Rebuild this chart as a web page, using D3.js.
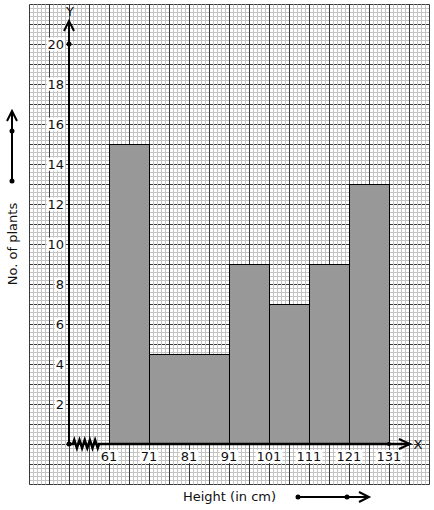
<!DOCTYPE html>
<html><head><meta charset="utf-8">
<script src="https://cdn.jsdelivr.net/npm/d3@7"></script>
<style>body{margin:0;background:#fff}svg{display:block}text{font-family:"DejaVu Sans",sans-serif;fill:#111}</style>
</head><body>
<script>
const xTicks = [61, 71, 81, 91, 101, 111, 121, 131];
const yTicks = [2, 4, 6, 8, 10, 12, 14, 16, 18, 20];
const classEdges = [61, 71, 91, 101, 111, 121, 131];
const barHeights = [15, 4.5, 9, 7, 9, 13];
const xTitle = "Height (in cm)";
const yTitle = "No. of plants";

const W = 434, H = 510;
const svg = d3.select("body").append("svg").attr("width", W).attr("height", H);
svg.append("rect").attr("width", W).attr("height", H).attr("fill", "#fff");

const x = d3.scaleLinear().domain([51, 131]).range([69, 389]);
const y = d3.scaleLinear().domain([0, 20]).range([444, 44]);

// graph paper
const gx0 = x(41), gx1 = x(141), gy0 = y(22), gy1 = y(-2);
const g = svg.append("g").attr("transform", "translate(0.5,0.5)");
const minorC = "#c4c4c4", majorC = "#3a3a3a";
for (let yy = gy0; yy <= gy1; yy += 4) if ((yy - gy0) % 20) g.append("line").attr("x1", gx0).attr("x2", gx1).attr("y1", yy).attr("y2", yy).attr("stroke", minorC);
for (let yy = gy0; yy <= gy1; yy += 20) g.append("line").attr("x1", gx0).attr("x2", gx1).attr("y1", yy).attr("y2", yy).attr("stroke", majorC);
for (let xx = gx0; xx <= gx1; xx += 4) if ((xx - gx0) % 20) g.append("line").attr("x1", xx).attr("x2", xx).attr("y1", gy0).attr("y2", gy1).attr("stroke", minorC);
for (let xx = gx0; xx <= gx1; xx += 20) g.append("line").attr("x1", xx).attr("x2", xx).attr("y1", gy0).attr("y2", gy1).attr("stroke", majorC);

// bars
const bars = barHeights.map((h, i) => ({ a: classEdges[i], b: classEdges[i + 1], h }));
g.selectAll("rect.bar").data(bars).join("rect").attr("class", "bar")
  .attr("x", d => x(d.a)).attr("width", d => x(d.b) - x(d.a))
  .attr("y", d => y(d.h)).attr("height", d => y(0) - y(d.h))
  .attr("fill", "#989898").attr("stroke", "#000").attr("stroke-width", 1);

// tick labels with white background
function labelBox(sel) {
  sel.each(function () {
    const bb = this.getBBox();
    d3.select(this.parentNode).insert("rect", () => this)
      .attr("x", bb.x - 1).attr("y", bb.y + 1).attr("width", bb.width + 2).attr("height", bb.height - 2).attr("fill", "#fff");
  });
}
const yl = svg.append("g");
yTicks.forEach(v => {
  const gg = yl.append("g");
  gg.append("text").attr("x", 64).attr("y", y(v)).attr("dy", "0.36em").attr("text-anchor", "end").attr("font-size", 13).text(v);
});
labelBox(yl.selectAll("text"));
const xl = svg.append("g");
xTicks.forEach(v => {
  const gg = xl.append("g");
  gg.append("text").attr("x", x(v)).attr("y", 461).attr("text-anchor", "middle").attr("font-size", 13).text(v);
});
labelBox(xl.selectAll("text"));

// axes
const ax = svg.append("g").attr("stroke", "#000").attr("fill", "none").attr("stroke-width", 2);
ax.append("line").attr("x1", x(51)).attr("x2", x(51)).attr("y1", y(0)).attr("y2", 22);
ax.append("path").attr("d", `M${x(51) - 5},31 L${x(51)},21 L${x(51) + 5},31`);
// x axis with kink
const kx0 = x(52), kx1 = x(58.5);
const zz = [[x(51), y(0)], [kx0, y(0)]];
const n = 5, step = (kx1 - kx0) / (2 * n);
for (let i = 0; i < 2 * n; i++) zz.push([kx0 + step * (i + 0.5), y(0) + (i % 2 ? 4 : -4)]);
zz.push([kx1, y(0)], [409, y(0)]);
ax.append("path").attr("d", d3.line()(zz)).attr("stroke-width", 2.5);
ax.append("path").attr("d", `M399,${y(0) - 5} L410,${y(0)} L399,${y(0) + 5}`);

const dots = svg.append("g").attr("fill", "#000");
dots.append("circle").attr("cx", x(51)).attr("cy", y(0)).attr("r", 2.5);
dots.append("circle").attr("cx", x(51)).attr("cy", y(20)).attr("r", 2.5);
dots.append("circle").attr("cx", x(131)).attr("cy", y(0)).attr("r", 2);

svg.append("text").attr("x", 70).attr("y", 16).attr("text-anchor", "middle").attr("font-size", 13).text("Y");
svg.append("text").attr("x", 418).attr("y", y(0)).attr("dy", "0.36em").attr("text-anchor", "middle").attr("font-size", 13).text("X");

// titles
svg.append("text").attr("x", 229.5).attr("y", 501).attr("text-anchor", "middle").attr("font-size", 13).text(xTitle);
svg.append("text").attr("transform", "translate(17,244) rotate(-90)").attr("text-anchor", "middle").attr("font-size", 13).text(yTitle);

// direction arrows
const da = svg.append("g").attr("stroke", "#000").attr("fill", "none").attr("stroke-width", 2);
da.append("line").attr("x1", 298).attr("x2", 368).attr("y1", 497).attr("y2", 497);
da.append("path").attr("d", "M359,492 L369,497 L359,502");
da.append("line").attr("x1", 12).attr("x2", 12).attr("y1", 181).attr("y2", 112);
da.append("path").attr("d", "M7,121 L12,111 L17,121");
dots.append("circle").attr("cx", 298).attr("cy", 497).attr("r", 2.5);
dots.append("circle").attr("cx", 347).attr("cy", 497).attr("r", 2.5);
dots.append("circle").attr("cx", 12).attr("cy", 181).attr("r", 2.5);
dots.append("circle").attr("cx", 12).attr("cy", 131).attr("r", 2.5);
</script>
</body></html>
